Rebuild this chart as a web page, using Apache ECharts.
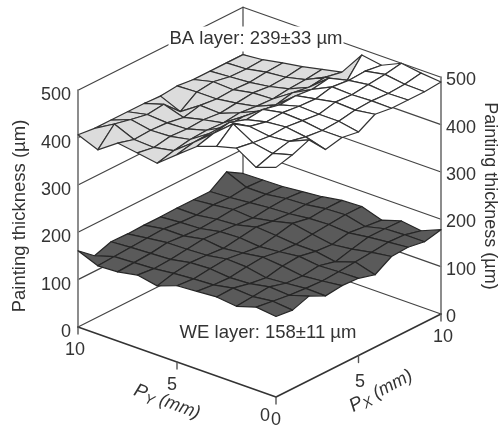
<!DOCTYPE html>
<html><head><meta charset="utf-8">
<style>html,body{margin:0;padding:0;background:#fff}#c{width:504px;height:429px}</style>
<script src="https://cdn.jsdelivr.net/npm/echarts@6/dist/echarts.min.js"></script>
</head><body><div id="c"></div>
<script>
// Surface heights in um; each row is one Py index (0..10), each column one Px index (0..10)
const baLayer = [
 [485,494,508,470,478,472,492,487,487,487,490],
 [470,482,490,482,478,480,486,488,486,488,494],
 [496,490,486,488,484,480,488,486,490,494,500],
 [485,515,492,484,486,482,480,488,484,486,481],
 [470,480,486,474,478,470,472,468,474,445,488],
 [438,446,448,444,448,442,438,446,440,444,437],
 [405,414,420,422,420,424,420,418,422,424,428],
 [412,406,412,410,412,408,412,416,412,414,419],
 [418,408,410,408,402,410,406,408,406,410,412],
 [389,426,418,411,415,382,406,410,403,402,404],
 [406,402,402,402,402,400,404,400,400,400,400]
];
const weLayer = [
 [170,166,178,161,165,163,153,174,176,170,178],
 [175,170,165,162,160,162,165,168,172,170,161],
 [162,165,168,158,156,160,151,160,168,168,167],
 [167,168,160,155,162,165,158,155,162,158,154],
 [164,160,158,163,166,160,158,162,165,168,168],
 [161,158,162,165,160,156,162,170,163,166,166],
 [146,155,160,158,155,160,165,160,158,160,159],
 [154,150,152,156,160,158,155,152,156,158,155],
 [146,148,150,155,152,150,152,155,152,152,151],
 [144,146,148,150,152,148,146,150,148,152,150],
 [161,133,145,144,145,145,146,146,146,170,149]
];
const zTicks = [0,100,200,300,400,500];
const xyTicks = [0,5,10];
const whiteAbove = 468;

const origin = [276,397], pxStep = [16.5,-8.3], pyStep = [-19.8,-7.0], zScale = 0.4735;
const project = (px,py,z) => [
  origin[0] + px*pxStep[0] + py*pyStep[0],
  origin[1] + px*pxStep[1] + py*pyStep[1] - z*zScale
];

function cells(){
  const out=[];
  for(let j=9;j>=0;j--) for(let i=9;i>=0;i--) out.push([i,j]);
  return out;
}
function surface(name,layer,low,high,stroke,z){
  return {type:'custom',name,coordinateSystem:'cartesian2d',z,silent:true,clip:false,
    data:cells(),
    renderItem(p,api){
      const i=api.value(0), j=api.value(1);
      const v=[[i,j],[i+1,j],[i+1,j+1],[i,j+1]];
      const c=v.map(([a,b])=>api.coord(project(a,b,layer[b][a])));
      const m=v.reduce((s,[a,b])=>s+layer[b][a],0)/4;
      return {type:'polygon',shape:{points:c},style:{fill:m>whiteAbove?high:low,stroke,lineWidth:1.2,lineJoin:'round'}};
    }};
}
function segments(name,list,color,width,z){
  return {type:'custom',name,coordinateSystem:'cartesian2d',z,silent:true,clip:false,
    data:list.map((_,k)=>[k]),
    renderItem(p,api){
      const s=list[api.value(0)], a=api.coord(s[0]), b=api.coord(s[1]);
      return {type:'line',shape:{x1:a[0],y1:a[1],x2:b[0],y2:b[1]},style:{stroke:color,lineWidth:width,lineCap:'round'}};
    }};
}
const wall=[];
zTicks.forEach(t=>{
  wall.push([project(0,10,t),project(10,10,t)]);
  wall.push([project(10,0,t),project(10,10,t)]);
});
wall.push([project(10,10,0),project(10,10,500)]);
const uprights=[[project(0,10,0),project(0,10,500)],[project(10,0,0),project(10,0,500)]];
const base=[[project(0,0,0),project(10,0,0)],[project(0,0,0),project(0,10,0)]];
const ticks=[];
xyTicks.forEach(t=>{
  const a=project(t,0,0), b=project(0,t,0);
  ticks.push([a,[a[0],a[1]+7]]);
  if(t>0) ticks.push([b,[b[0],b[1]+7]]);
});

const FF='"Liberation Sans",Arial,sans-serif', TC='#333';
const txt=(x,y,text,extra={})=>({type:'text',x,y,style:Object.assign({text,fontFamily:FF,fontSize:18,fill:TC,align:'center',verticalAlign:'middle'},extra),z:50});
const pLabel=(x,y,sub,rot)=>({type:'text',x,y,rotation:rot,style:{
  text:'{i|P}{s|'+sub+'}{n| (mm)}',align:'center',verticalAlign:'middle',
  rich:{i:{fontFamily:FF,fontSize:19,fontStyle:'italic',fill:TC},
        s:{fontFamily:FF,fontSize:14,fontStyle:'italic',fill:TC,verticalAlign:'bottom',padding:[9,0,0,0]},
        n:{fontFamily:FF,fontSize:18,fontStyle:'italic',fill:TC}}},z:50});

const labels=[];
zTicks.forEach(t=>{
  const l=project(0,10,t), r=project(10,0,t);
  labels.push(txt(l[0]-7,l[1]+5,String(t),{align:'right'}));
  labels.push(txt(r[0]+5,r[1]+3,String(t),{align:'left'}));
});
labels.push(txt(75,350,'10'),txt(172,385,'5'),txt(265,416,'0'),
            txt(276,420,'0'),txt(443,337,'10'),txt(360,382,'5'));
const lt=txt(20,216,'Painting thickness (\u00b5m)',{fontSize:18.5}); lt.rotation=Math.PI/2; labels.push(lt);
const rt=txt(490,196,'Painting thickness (\u00b5m)',{fontSize:18}); rt.rotation=-Math.PI/2; labels.push(rt);
labels.push(txt(268,333,'WE layer: 158\u00b111 \u00b5m',{fontSize:18.5}));
labels.push({type:'text',x:256,y:39,z:60,style:{text:'BA layer: 239\u00b133 \u00b5m',fontFamily:FF,fontSize:18.5,fill:TC,align:'center',verticalAlign:'middle',backgroundColor:'#fff',padding:[3,1,3,1]}});
labels.push(pLabel(167,402,'Y',-0.36),pLabel(381,391,'X',0.5));

const chart=echarts.init(document.getElementById('c'),null,{renderer:'canvas'});
chart.setOption({
  animation:false,backgroundColor:'#fff',
  grid:{left:0,right:0,top:0,bottom:0},
  xAxis:{type:'value',min:0,max:504,show:false},
  yAxis:{type:'value',min:0,max:429,inverse:true,show:false},
  graphic:labels,
  series:[
    segments('walls',wall,'#444',1.2,1),
    segments('uprights',uprights,'#808080',1.8,2),
    surface('WE layer',weLayer,'#5a5a5a','#5a5a5a','#262626',3),
    surface('BA layer',baLayer,'#dcdcdc','#ffffff','#333',4),
    segments('base',base,'#333',1.6,5),
    segments('ticks',ticks,'#555',1.4,5)
  ]
});
</script></body></html>
